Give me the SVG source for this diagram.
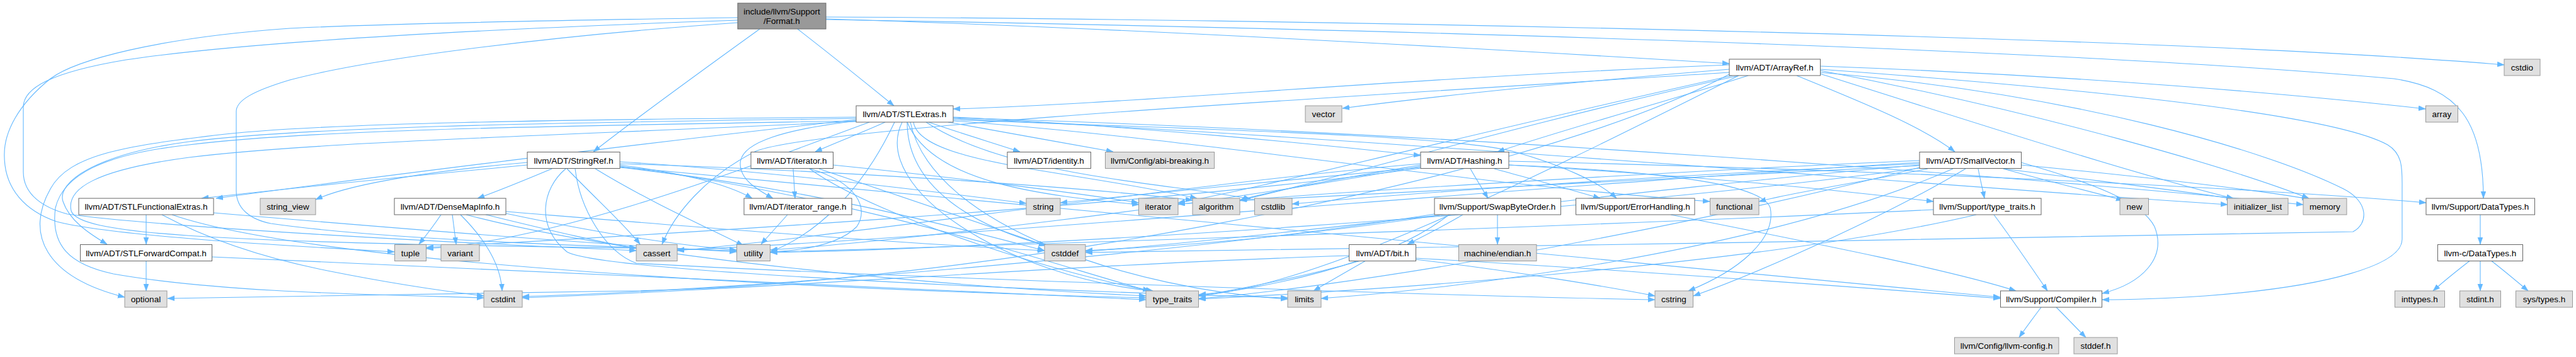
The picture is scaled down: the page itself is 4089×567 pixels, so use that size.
<svg xmlns="http://www.w3.org/2000/svg" width="4089" height="567" viewBox="0 0 4089 567">
<style>
.e{fill:none;stroke:#63b8ff;stroke-width:1.1;marker-end:url(#ah)}
.n rect{fill:#ffffff;stroke:#666666;stroke-width:1}
.s rect{fill:#e0e0e0;stroke:#999999;stroke-width:1}
.r rect{fill:#999999;stroke:#666666;stroke-width:1}
text{font-family:"Liberation Sans",Arial,sans-serif;font-size:13.5px;fill:#000;text-anchor:middle}
</style>
<defs>
<marker id="ah" markerUnits="userSpaceOnUse" markerWidth="12" markerHeight="9" refX="11" refY="4" orient="auto">
<path d="M0,0 L11,4 L0,8 z" fill="#63b8ff" stroke="#63b8ff" stroke-width="0.5"/>
</marker>
</defs>
<rect width="4089" height="567" fill="#ffffff"/>
<g id="edges">
<!-- Format.h -->
<path class="e" d="M1206,46 C1120,108 1020,180 942,241"/>
<path class="e" d="M1266,46 C1320,88 1370,128 1419,168"/>
<path class="e" d="M1311,30 C1800,45 2400,80 2745,101"/>
<path class="e" d="M1311,27 C2000,30 3400,55 3975,103"/>
<path class="e" d="M1311,31 C2300,48 3300,80 3800,125 C3900,140 3942,190 3942,315"/>
<path class="e" d="M1171,28 C900,32 600,38 460,45 C250,60 120,95 80,125 C30,165 5,210 7,250 C8,300 40,335 90,352 C180,375 450,390 626,400"/>
<path class="e" d="M1171,32 C800,45 400,65 200,95 C80,115 37,140 37,170 L37,273 C37,310 70,330 107,340 C250,360 700,385 1010,398"/>
<path class="e" d="M1171,36 C900,55 600,90 460,127 C400,145 375,160 375,177 L375,303 C375,330 395,348 430,355 C600,380 950,392 1169,398"/>
<!-- STLExtras.h -->
<path class="e" d="M1359,190 C1000,230 600,280 343,315"/>
<path class="e" d="M1359,188 C900,195 500,200 300,225 C150,245 90,290 100,320 C110,350 140,370 170,388"/>
<path class="e" d="M1359,186 C900,190 500,195 340,215 C200,232 110,245 80,300 C40,370 70,440 198,472"/>
<path class="e" d="M1359,192 C900,200 500,205 300,230 C160,245 100,280 88,330 C80,390 110,420 180,435 C350,465 600,468 768,473"/>
<path class="e" d="M1359,193 C900,215 500,225 300,250 C150,270 105,300 113,335 C125,370 300,385 1010,394"/>
<path class="e" d="M1405,194 C1370,210 1330,225 1294,241"/>
<path class="e" d="M1474,194 C1520,210 1570,225 1619,241"/>
<path class="e" d="M1505,194 C1590,210 1680,225 1767,241"/>
<path class="e" d="M1513,186 C1800,200 2100,230 2255,247"/>
<path class="e" d="M1513,190 C1900,205 2300,215 2400,240 C2480,262 2540,290 2566,315"/>
<path class="e" d="M1450,194 C1460,260 1700,270 1900,315"/>
<path class="e" d="M1440,194 C1440,300 1550,360 1660,390"/>
<path class="e" d="M1470,194 C1600,280 1850,290 1985,316"/>
<path class="e" d="M1513,192 C1900,220 2300,290 2714,320"/>
<path class="e" d="M1513,188 C2200,220 3000,290 3536,325"/>
<path class="e" d="M1440,194 C1480,290 1650,310 1808,325"/>
<path class="e" d="M1445,194 C1480,360 1800,460 2044,475"/>
<path class="e" d="M1513,187 C2300,210 3200,280 3656,325"/>
<path class="e" d="M1380,194 C1200,260 900,380 677,395"/>
<path class="e" d="M1432,194 C1380,300 1600,440 1830,462"/>
<path class="e" d="M1420,194 C1370,300 1300,370 1223,400"/>
<path class="e" d="M1359,192 C1250,205 1175,225 1175,260 C1175,285 1200,300 1227,315"/>
<!-- ArrayRef.h -->
<path class="e" d="M2745,103 C2200,125 1800,165 1513,173"/>
<path class="e" d="M2775,120 C2650,160 2500,200 2377,241"/>
<path class="e" d="M2852,120 C2950,160 3050,200 3103,241"/>
<path class="e" d="M2889,110 C3300,140 3700,180 3790,230 C3815,245 3813,270 3813,300 L3813,380 C3813,420 3700,455 3500,470 C3420,475 3380,476 3337,476"/>
<path class="e" d="M2889,115 C3300,150 3600,240 3720,300 C3760,320 3760,355 3735,368 C3300,380 2200,392 1723,401"/>
<path class="e" d="M2760,120 C2400,200 2100,290 1968,318"/>
<path class="e" d="M2889,105 C3300,120 3650,150 3850,173"/>
<path class="e" d="M2745,115 C2200,150 1300,200 1200,240 C1120,280 1070,340 1051,388"/>
<path class="e" d="M2889,117 C3150,200 3400,280 3545,315"/>
<path class="e" d="M2750,120 C2300,220 2000,300 1870,322"/>
<path class="e" d="M2889,112 C3250,180 3550,270 3665,315"/>
<path class="e" d="M2745,118 C2400,300 1500,455 1000,462 C700,466 400,470 266,474"/>
<path class="e" d="M2760,120 C2400,300 2100,450 1903,470"/>
<path class="e" d="M2745,110 C2500,130 2300,150 2131,172"/>
<!-- StringRef.h -->
<path class="e" d="M876,268 C840,283 800,300 758,315"/>
<path class="e" d="M837,262 C650,280 450,300 320,315"/>
<path class="e" d="M984,262 C1080,275 1150,290 1194,315"/>
<path class="e" d="M984,265 C1600,320 2800,440 3175,472"/>
<path class="e" d="M984,260 C1300,270 1700,295 1893,318"/>
<path class="e" d="M900,268 C950,320 990,355 1016,388"/>
<path class="e" d="M984,266 C1300,300 1550,370 1658,398"/>
<path class="e" d="M913,268 C920,330 960,400 1010,418 C1400,440 2300,470 2627,476"/>
<path class="e" d="M898,268 C860,300 850,360 900,400 C950,430 1600,460 2044,473"/>
<path class="e" d="M984,257 C1200,270 1450,300 1629,323"/>
<path class="e" d="M837,258 C700,270 560,290 501,317"/>
<path class="e" d="M984,264 C1400,320 1700,430 1825,462"/>
<path class="e" d="M945,268 C1030,320 1120,360 1180,390"/>
<!-- DenseMapInfo.h -->
<path class="e" d="M700,341 C690,356 678,372 665,388"/>
<path class="e" d="M718,341 C720,356 722,372 724,388"/>
<path class="e" d="M731,341 C770,380 795,420 797,462"/>
<path class="e" d="M771,341 C850,360 950,385 1010,394"/>
<path class="e" d="M803,336 C1100,360 1400,385 1658,398"/>
<path class="e" d="M740,341 C1000,410 1500,455 1819,470"/>
<path class="e" d="M803,339 C950,370 1080,390 1169,397"/>
<!-- iterator.h / iterator_range.h -->
<path class="e" d="M1259,268 C1260,284 1261,300 1262,315"/>
<path class="e" d="M1300,268 C1450,320 1600,370 1660,390"/>
<path class="e" d="M1322,262 C1500,280 1700,305 1807,322"/>
<path class="e" d="M1285,268 C1400,350 1700,440 1830,462"/>
<path class="e" d="M1286,268 C1360,290 1380,330 1360,360 C1330,390 1270,398 1223,400"/>
<path class="e" d="M1250,341 C1236,357 1222,372 1208,388"/>
<!-- STLFunctionalExtras.h / STLForwardCompat.h -->
<path class="e" d="M232,341 C232,356 232,372 232,388"/>
<path class="e" d="M257,341 C330,380 420,410 520,430 C620,450 700,462 768,470"/>
<path class="e" d="M273,341 C500,420 1300,460 1819,473"/>
<path class="e" d="M339,338 C600,360 900,385 1169,400"/>
<path class="e" d="M232,414.5 C232,430 232,446 232,462"/>
<path class="e" d="M336,408 C700,420 1400,460 1819,476"/>
<!-- Hashing.h -->
<path class="e" d="M2395,256 C3000,270 3600,300 3851,322"/>
<path class="e" d="M2372,268 C2430,284 2490,300 2540,315"/>
<path class="e" d="M2334,268 C2343,284 2353,300 2362,315"/>
<path class="e" d="M2395,262 C2700,280 2900,300 3069,320"/>
<path class="e" d="M2255,262 C2150,280 2030,300 1968,318"/>
<path class="e" d="M2255,260 C1900,290 1300,380 1075,398"/>
<path class="e" d="M2395,262 C2700,275 2800,300 2810,330 C2820,380 2760,430 2680,462"/>
<path class="e" d="M2255,266 C2100,280 1850,305 1683,322"/>
<path class="e" d="M2255,267 C1800,330 1000,375 677,393"/>
<path class="e" d="M2255,264 C1900,330 1400,385 1223,397"/>
<!-- SmallVector.h -->
<path class="e" d="M3208,258 C3320,290 3400,320 3420,360 C3440,410 3400,450 3337,466"/>
<path class="e" d="M3140,268 C3143,284 3147,300 3150,315"/>
<path class="e" d="M3047,255 C2700,270 2200,300 1968,318"/>
<path class="e" d="M3047,258 C2500,290 1500,380 1075,397"/>
<path class="e" d="M3047,262 C2600,300 2000,380 1723,399"/>
<path class="e" d="M3047,260 C2600,280 2200,310 2051,324"/>
<path class="e" d="M3120,268 C3000,340 2800,430 2688,470"/>
<path class="e" d="M3060,268 C2950,290 2850,305 2792,320"/>
<path class="e" d="M3180,268 C3350,290 3480,305 3545,316"/>
<path class="e" d="M3047,263 C2500,290 2000,315 1870,324"/>
<path class="e" d="M3100,268 C2800,400 2300,460 2097,474"/>
<path class="e" d="M3208,262 C3450,285 3600,305 3665,316"/>
<path class="e" d="M3180,268 C3240,285 3310,302 3370,318"/>
<path class="e" d="M3047,266 C2600,380 2100,460 1903,474"/>
<path class="e" d="M3047,267 C2500,340 1600,395 1223,401"/>
<!-- Support/type_traits.h, ErrorHandling.h -->
<path class="e" d="M3165,341 C3195,381 3222,421 3250,462"/>
<path class="e" d="M3137,341 C2800,420 2200,460 1903,475"/>
<path class="e" d="M3069,333 C2500,360 1600,390 1223,400"/>
<path class="e" d="M2652,341 C2900,390 3100,430 3200,462"/>
<!-- SwapByteOrder.h -->
<path class="e" d="M2322,341 C2290,360 2260,375 2234,388"/>
<path class="e" d="M2377,341 C2377,356 2377,372 2377,388"/>
<path class="e" d="M2290,341 C2100,370 1900,390 1723,398"/>
<path class="e" d="M2277,340 C1900,400 1200,460 829,471"/>
<path class="e" d="M2300,341 C2200,420 2000,460 1903,468"/>
<!-- bit.h -->
<path class="e" d="M2247,410 C2600,430 3000,460 3175,474"/>
<path class="e" d="M2141,406 C1700,420 1200,460 829,473"/>
<path class="e" d="M2168,414 C2140,430 2112,446 2085,462"/>
<path class="e" d="M2160,414 C2050,445 1950,462 1903,470"/>
<path class="e" d="M2247,412 C2400,430 2550,455 2627,470"/>
<!-- Compiler.h, DataTypes -->
<path class="e" d="M3240,488 C3228,504 3216,520 3205,536"/>
<path class="e" d="M3264,488 C3280,504 3295,520 3311,536"/>
<path class="e" d="M3937,341 C3937,356 3937,372 3937,388"/>
<path class="e" d="M3920,414.5 C3900,430 3880,446 3862,462"/>
<path class="e" d="M3937,414.5 C3937,430 3937,446 3937,462"/>
<path class="e" d="M3955,414.5 C3975,430 3994,446 4013,462"/>
</g>
<g id="node-format" class="r"><rect x="1171" y="5" width="140" height="41"/><text x="1241" y="23">include/llvm/Support</text><text x="1241" y="38">/Format.h</text></g>
<g id="node-arrayref" class="n"><rect x="2745" y="94" width="144.5" height="26"/><text x="2817" y="112">llvm/ADT/ArrayRef.h</text></g>
<g id="node-cstdio" class="s"><rect x="3975" y="94" width="57" height="26"/><text x="4003.5" y="112">cstdio</text></g>
<g id="node-stlextras" class="n"><rect x="1359" y="168" width="154" height="26"/><text x="1436" y="186">llvm/ADT/STLExtras.h</text></g>
<g id="node-vector" class="s"><rect x="2072" y="168" width="58" height="26"/><text x="2101" y="186">vector</text></g>
<g id="node-array" class="s"><rect x="3850.5" y="168" width="51" height="26"/><text x="3876" y="186">array</text></g>
<g id="node-stringref" class="n"><rect x="837" y="241.5" width="147" height="26"/><text x="910.5" y="259.5">llvm/ADT/StringRef.h</text></g>
<g id="node-iterator-h" class="n"><rect x="1192" y="241.5" width="130.5" height="26"/><text x="1257" y="259.5">llvm/ADT/iterator.h</text></g>
<g id="node-identity" class="n"><rect x="1599" y="241.5" width="132.5" height="26"/><text x="1665" y="259.5">llvm/ADT/identity.h</text></g>
<g id="node-abi" class="s"><rect x="1754.5" y="241.5" width="173" height="26"/><text x="1841" y="259.5">llvm/Config/abi-breaking.h</text></g>
<g id="node-hashing" class="n"><rect x="2255" y="241.5" width="140" height="26"/><text x="2325" y="259.5">llvm/ADT/Hashing.h</text></g>
<g id="node-smallvector" class="n"><rect x="3047" y="241.5" width="161.5" height="26"/><text x="3128" y="259.5">llvm/ADT/SmallVector.h</text></g>
<g id="node-stlfunc" class="n"><rect x="125" y="315" width="214" height="26"/><text x="232" y="333">llvm/ADT/STLFunctionalExtras.h</text></g>
<g id="node-string-view" class="s"><rect x="413" y="315" width="88" height="26"/><text x="457" y="333">string_view</text></g>
<g id="node-densemapinfo" class="n"><rect x="626" y="315" width="177" height="26"/><text x="714.5" y="333">llvm/ADT/DenseMapInfo.h</text></g>
<g id="node-iterator-range" class="n"><rect x="1181" y="315" width="171" height="26"/><text x="1266.5" y="333">llvm/ADT/iterator_range.h</text></g>
<g id="node-string" class="s"><rect x="1629" y="315" width="54" height="26"/><text x="1656" y="333">string</text></g>
<g id="node-iterator" class="s"><rect x="1807.5" y="315" width="62.5" height="26"/><text x="1838.5" y="333">iterator</text></g>
<g id="node-algorithm" class="s"><rect x="1893" y="315" width="75" height="26"/><text x="1930.5" y="333">algorithm</text></g>
<g id="node-cstdlib" class="s"><rect x="1991.5" y="315" width="59.5" height="26"/><text x="2021" y="333">cstdlib</text></g>
<g id="node-swapbyteorder" class="n"><rect x="2277" y="315" width="200.5" height="26"/><text x="2377" y="333">llvm/Support/SwapByteOrder.h</text></g>
<g id="node-errorhandling" class="n"><rect x="2501.5" y="315" width="188.5" height="26"/><text x="2596" y="333">llvm/Support/ErrorHandling.h</text></g>
<g id="node-functional" class="s"><rect x="2714.5" y="315" width="77.5" height="26"/><text x="2753" y="333">functional</text></g>
<g id="node-support-type-traits" class="n"><rect x="3069" y="315" width="171" height="26"/><text x="3154.5" y="333">llvm/Support/type_traits.h</text></g>
<g id="node-new" class="s"><rect x="3365" y="315" width="45.5" height="26"/><text x="3388" y="333">new</text></g>
<g id="node-initializer-list" class="s"><rect x="3535.5" y="315" width="96.5" height="26"/><text x="3584" y="333">initializer_list</text></g>
<g id="node-memory" class="s"><rect x="3656" y="315" width="69" height="26"/><text x="3690.5" y="333">memory</text></g>
<g id="node-datatypes" class="n"><rect x="3851" y="315" width="172.5" height="26"/><text x="3937" y="333">llvm/Support/DataTypes.h</text></g>
<g id="node-stlforward" class="n"><rect x="127.5" y="388.5" width="209" height="26"/><text x="232" y="406.5">llvm/ADT/STLForwardCompat.h</text></g>
<g id="node-tuple" class="s"><rect x="626.5" y="388.5" width="50" height="26"/><text x="651.5" y="406.5">tuple</text></g>
<g id="node-variant" class="s"><rect x="700" y="388.5" width="61" height="26"/><text x="730.5" y="406.5">variant</text></g>
<g id="node-cassert" class="s"><rect x="1010" y="388.5" width="65" height="26"/><text x="1042.5" y="406.5">cassert</text></g>
<g id="node-utility" class="s"><rect x="1169.5" y="388.5" width="53" height="26"/><text x="1196" y="406.5">utility</text></g>
<g id="node-cstddef" class="s"><rect x="1658" y="388.5" width="65" height="26"/><text x="1690.5" y="406.5">cstddef</text></g>
<g id="node-bit" class="n"><rect x="2141.5" y="388.5" width="106" height="26"/><text x="2194.5" y="406.5">llvm/ADT/bit.h</text></g>
<g id="node-endian" class="s"><rect x="2315.5" y="388.5" width="123.5" height="26"/><text x="2377" y="406.5">machine/endian.h</text></g>
<g id="node-c-datatypes" class="n"><rect x="3869.5" y="388.5" width="135" height="26"/><text x="3937" y="406.5">llvm-c/DataTypes.h</text></g>
<g id="node-optional" class="s"><rect x="198" y="462" width="67" height="26"/><text x="231.5" y="480">optional</text></g>
<g id="node-cstdint" class="s"><rect x="768" y="462" width="61" height="26"/><text x="798.5" y="480">cstdint</text></g>
<g id="node-type-traits" class="s"><rect x="1819" y="462" width="83.5" height="26"/><text x="1861" y="480">type_traits</text></g>
<g id="node-limits" class="s"><rect x="2044" y="462" width="53" height="26"/><text x="2070.5" y="480">limits</text></g>
<g id="node-cstring" class="s"><rect x="2627" y="462" width="60.5" height="26"/><text x="2657" y="480">cstring</text></g>
<g id="node-compiler" class="n"><rect x="3175.5" y="462" width="161" height="26"/><text x="3256" y="480">llvm/Support/Compiler.h</text></g>
<g id="node-inttypes" class="s"><rect x="3801.5" y="462" width="79" height="26"/><text x="3841" y="480">inttypes.h</text></g>
<g id="node-stdint" class="s"><rect x="3904.5" y="462" width="65" height="26"/><text x="3937" y="480">stdint.h</text></g>
<g id="node-systypes" class="s"><rect x="3993.5" y="462" width="90" height="26"/><text x="4038.5" y="480">sys/types.h</text></g>
<g id="node-llvm-config" class="s"><rect x="3102.5" y="536" width="165.5" height="26"/><text x="3185" y="554">llvm/Config/llvm-config.h</text></g>
<g id="node-stddef" class="s"><rect x="3292" y="536" width="69" height="26"/><text x="3326.5" y="554">stddef.h</text></g>
</svg>
